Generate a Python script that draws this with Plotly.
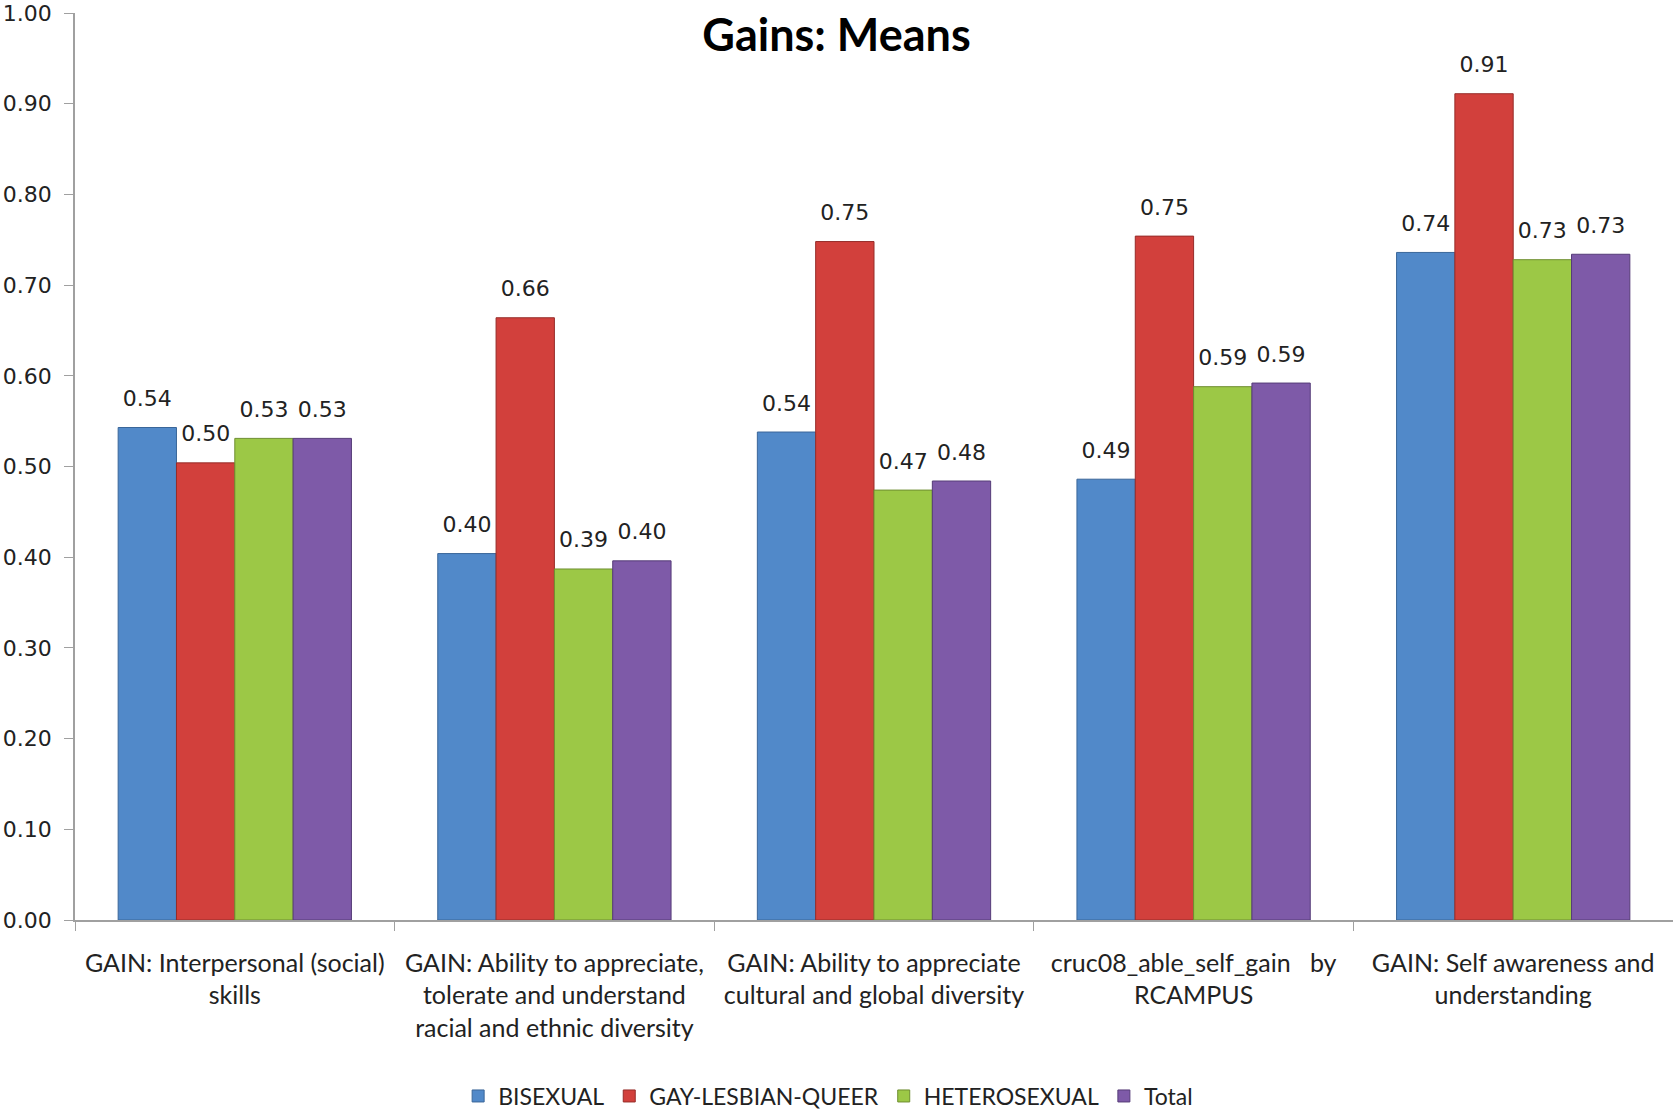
import plotly.graph_objects as go

categories = [
    "GAIN: Interpersonal (social)<br>skills",
    "GAIN: Ability to appreciate,<br>tolerate and understand<br>racial and ethnic diversity",
    "GAIN: Ability to appreciate<br>cultural and global diversity",
    "cruc08_able_self_gain   by<br>RCAMPUS",
    "GAIN: Self awareness and<br>understanding",
]
series_names = ["BISEXUAL", "GAY-LESBIAN-QUEER", "HETEROSEXUAL", "Total"]
bisexual = [0.543, 0.404, 0.538, 0.486, 0.736]
gay_lesbian_queer = [0.504, 0.664, 0.748, 0.754, 0.911]
heterosexual = [0.531, 0.387, 0.474, 0.588, 0.728]
total = [0.531, 0.396, 0.484, 0.592, 0.734]
y_ticks = [0.0, 0.1, 0.2, 0.3, 0.4, 0.5, 0.6, 0.7, 0.8, 0.9, 1.0]

series_values = [bisexual, gay_lesbian_queer, heterosexual, total]
fill_colors = ["#5189C9", "#D2403C", "#9CC846", "#7E5AA8"]
line_colors = ["#3A6699", "#962C29", "#6E8E30", "#563C78"]

fig = go.Figure()
for i, (name, vals) in enumerate(zip(series_names, series_values)):
    fig.add_trace(go.Bar(
        x=categories, y=vals, name=name,
        offsetgroup=str(i),
        marker=dict(color=fill_colors[i], line=dict(color=line_colors[i], width=1)),
    ))
for i, (name, vals) in enumerate(zip(series_names, series_values)):
    fig.add_trace(go.Scatter(
        x=categories, y=vals, offsetgroup=str(i),
        mode="markers+text",
        marker=dict(size=24, opacity=0),
        text=[f"{v:.2f}" for v in vals],
        textposition="top center",
        textfont=dict(family="DejaVu Sans", size=22, color="#222222"),
        showlegend=False, hoverinfo="skip",
    ))

fig.update_layout(
    width=1673, height=1110,
    plot_bgcolor="white", paper_bgcolor="white",
    barmode="group", scattermode="group",
    bargap=0.27, bargroupgap=0,
    margin=dict(l=75, r=0, t=13, b=190, autoexpand=False),
    title=dict(text="<b>Gains: Means</b>", x=0.5, xref="container", y=0.9685,
               yref="container", xanchor="center", yanchor="middle",
               font=dict(family="Lato", size=45, color="#000000")),
    legend=dict(orientation="h", x=0.495, xref="container", xanchor="center",
                y=0.0126, yref="container", yanchor="middle",
                font=dict(family="Lato", size=23, color="#222222"),
                traceorder="normal", itemwidth=30),
    showlegend=True,
)
fig.update_yaxes(
    range=[0, 1.0], tickvals=y_ticks, tickformat=".2f", automargin=False,
    showgrid=False, zeroline=False,
    showline=True, linecolor="#A0A0A0", linewidth=1.5,
    ticks="outside", ticklen=9, tickcolor="#A0A0A0",
    ticklabelstandoff=8,
    tickfont=dict(family="DejaVu Sans", size=22, color="#222222"),
)
fig.update_xaxes(
    showgrid=False, showline=True, linecolor="#A0A0A0", linewidth=1.5, automargin=False,
    ticks="outside", tickson="boundaries", ticklen=9, tickcolor="#A0A0A0",
    ticklabelstandoff=20,
    tickfont=dict(family="Lato", size=25, color="#222222"),
    tickangle=0,
)

fig.write_html("out.html", config={"displayModeBar": False},
               post_script="document.body.style.margin='0px';")
